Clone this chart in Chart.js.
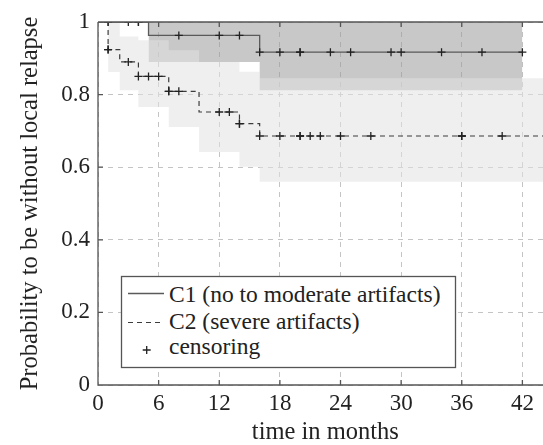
<!DOCTYPE html>
<html>
<head>
<meta charset="utf-8">
<script src="https://cdn.jsdelivr.net/npm/chart.js@4/dist/chart.umd.min.js"></script>
<style>
html,body{margin:0;padding:0;background:#fff;overflow:hidden;}
#wrap{position:relative;width:543px;height:445px;overflow:hidden;background:#fff;}
#c{position:absolute;left:0;top:0;}
#leg{position:absolute;left:0;top:0;pointer-events:none;}
</style>
</head>
<body>
<div id="wrap">
  <canvas id="c" width="558" height="445"></canvas>
  <svg id="leg" width="543" height="445" xmlns="http://www.w3.org/2000/svg"></svg>
</div>
<script>
// ---- data ----
const xTicks = [0, 6, 12, 18, 24, 30, 36, 42];
const xTickLabels = ['0', '6', '12', '18', '24', '30', '36', '42'];
const yTicks = [0, 0.2, 0.4, 0.6, 0.8, 1];
const yTickLabels = ['0', '0.2', '0.4', '0.6', '0.8', '1'];

const seriesLabels = ['C1 (no to moderate artifacts)', 'C2 (severe artifacts)', 'censoring'];

// Kaplan-Meier step curves (value holds from this time onward)
const c1Times = [0, 5, 16, 42];
const c1Surv  = [1, 0.963, 0.917, 0.917];
const c2Times = [0, 1, 2.15, 4, 7, 10, 14, 16, 45];
const c2Surv  = [1, 0.924, 0.89, 0.85, 0.809, 0.752, 0.72, 0.686, 0.686];

// confidence bands
const c1BandTimes = [5, 16, 42];
const c1BandUpper = [1, 1, 1];
const c1BandLower = [0.89, 0.812, 0.812];
const c2BandTimes = [1, 2.15, 4, 7, 10, 14, 16, 45];
const c2BandUpper = [1, 0.96, 0.95, 0.922, 0.89, 0.863, 0.845, 0.845];
const c2BandLower = [0.862, 0.812, 0.766, 0.711, 0.642, 0.601, 0.56, 0.56];

// censoring marks
const c1CensorTimes = [1, 3, 4, 4, 8, 12, 14, 16, 18, 20, 20, 23, 25, 29, 30, 34, 38, 42];
const c1CensorSurv  = [1, 1, 1, 1, 0.963, 0.963, 0.963, 0.917, 0.917, 0.917, 0.917, 0.917, 0.917, 0.917, 0.917, 0.917, 0.917, 0.917];
const c2CensorTimes = [1, 1, 3, 4, 5, 6, 7, 7, 8, 12, 13, 14, 14, 16, 18, 20, 20, 21, 22, 24, 27, 36, 36, 40];
const c2CensorSurv  = [0.924, 0.924, 0.89, 0.85, 0.85, 0.85, 0.809, 0.809, 0.809, 0.752, 0.752, 0.72, 0.72, 0.686, 0.686, 0.686, 0.686, 0.686, 0.686, 0.686, 0.686, 0.686, 0.686, 0.686];

// ---- chart ----
const FONT = '"Liberation Serif", "Times New Roman", serif';
const TEXT = '#222';
const pts = (xs, ys) => xs.map((x, i) => ({x: x, y: ys[i]}));

const framePlugin = {
  id: 'frame',
  afterDraw(chart) {
    const {ctx, chartArea, scales} = chart;
    const {left, top, right, bottom} = chartArea;
    ctx.save();
    ctx.setLineDash([]);
    ctx.strokeStyle = '#555';
    ctx.lineWidth = 1.3;
    ctx.beginPath();
    ctx.moveTo(left, top); ctx.lineTo(right, top);
    ctx.moveTo(left, top); ctx.lineTo(left, bottom); ctx.lineTo(right, bottom);
    xTicks.forEach(v => {
      const px = scales.x.getPixelForValue(v);
      ctx.moveTo(px, bottom); ctx.lineTo(px, bottom - 5);
      ctx.moveTo(px, top); ctx.lineTo(px, top + 5);
    });
    yTicks.forEach(v => {
      const py = scales.y.getPixelForValue(v);
      ctx.moveTo(left, py); ctx.lineTo(left + 5, py);
    });
    ctx.stroke();
    ctx.restore();
  }
};

new Chart(document.getElementById('c'), {
  type: 'line',
  data: {
    datasets: [
      { data: pts(c1BandTimes, c1BandUpper), stepped: true, fill: '+1',
        backgroundColor: 'rgba(155,155,155,0.55)', borderColor: 'rgba(0,0,0,0)', borderWidth: 0, pointRadius: 0, order: 10 },
      { data: pts(c1BandTimes, c1BandLower), stepped: true, fill: false,
        borderColor: 'rgba(0,0,0,0)', borderWidth: 0, pointRadius: 0, order: 10 },
      { data: pts(c2BandTimes, c2BandUpper), stepped: true, fill: '+1',
        backgroundColor: 'rgba(225,225,225,0.55)', borderColor: 'rgba(0,0,0,0)', borderWidth: 0, pointRadius: 0, order: 9 },
      { data: pts(c2BandTimes, c2BandLower), stepped: true, fill: false,
        borderColor: 'rgba(0,0,0,0)', borderWidth: 0, pointRadius: 0, order: 9 },
      { label: seriesLabels[0], data: pts(c1Times, c1Surv), stepped: true, fill: false,
        borderColor: '#5a5a5a', borderWidth: 1.3, pointRadius: 0, order: 2 },
      { label: seriesLabels[1], data: pts(c2Times, c2Surv), stepped: true, fill: false,
        borderColor: '#3c3c3c', borderWidth: 1.2, borderDash: [5, 4], pointRadius: 0, order: 2 },
      { label: seriesLabels[2], data: pts(c1CensorTimes, c1CensorSurv), showLine: false,
        pointStyle: 'cross', pointRadius: 4, pointBorderWidth: 1.3, pointBorderColor: '#222', borderColor: '#222', order: 1 },
      { label: seriesLabels[2], data: pts(c2CensorTimes, c2CensorSurv), showLine: false,
        pointStyle: 'cross', pointRadius: 4, pointBorderWidth: 1.3, pointBorderColor: '#222', borderColor: '#222', order: 1 }
    ]
  },
  options: {
    responsive: false,
    animation: false,
    devicePixelRatio: 1,
    layout: { padding: { top: 22, right: 0, bottom: 0, left: 0 } },
    plugins: { legend: { display: false }, tooltip: { enabled: false } },
    scales: {
      x: {
        type: 'linear', min: 0, max: 45,
        afterBuildTicks: s => { s.ticks = xTicks.map(v => ({value: v})); },
        afterFit: s => { s.height = 60; },
        ticks: { callback: (v, i) => xTickLabels[i], color: TEXT, padding: 7,
                 font: { family: FONT, size: 23, lineHeight: 1 }, maxRotation: 0, autoSkip: false },
        grid: { color: '#c4c4c4', lineWidth: 1, drawTicks: false },
        border: { display: false, dash: [5, 5] },
        title: { display: true, text: 'time in months', color: TEXT,
                 font: { family: FONT, size: 24.5, lineHeight: 1 }, padding: { top: 0, bottom: 0 } }
      },
      y: {
        type: 'linear', min: 0, max: 1,
        afterBuildTicks: s => { s.ticks = yTicks.map(v => ({value: v})); },
        afterFit: s => { s.width = 98; },
        ticks: { callback: (v, i) => yTickLabels[i], color: TEXT, padding: 8,
                 font: { family: FONT, size: 23, lineHeight: 1 }, autoSkip: false },
        grid: { color: '#c4c4c4', lineWidth: 1, drawTicks: false },
        border: { display: false, dash: [5, 5] },
        title: { display: true, text: 'Probability to be without local relapse', color: TEXT,
                 font: { family: FONT, size: 24.5, lineHeight: 1 }, padding: { top: 18, bottom: 0 } }
      }
    }
  },
  plugins: [framePlugin]
});

// ---- legend (SVG overlay) ----
const NS = 'http://www.w3.org/2000/svg';
const svg = document.getElementById('leg');
function el(tag, attrs, text) {
  const e = document.createElementNS(NS, tag);
  for (const k in attrs) e.setAttribute(k, attrs[k]);
  if (text) e.textContent = text;
  svg.appendChild(e);
  return e;
}
el('rect', { x: 121.5, y: 276.5, width: 334, height: 91, fill: '#fff', stroke: '#555', 'stroke-width': 1.3 });
el('line', { x1: 128, y1: 293.5, x2: 164, y2: 293.5, stroke: '#5a5a5a', 'stroke-width': 1.3 });
el('line', { x1: 128, y1: 322.5, x2: 164, y2: 322.5, stroke: '#3c3c3c', 'stroke-width': 1.2, 'stroke-dasharray': '5 4' });
el('path', { d: 'M142.7,350 h8 M146.7,346 v8', stroke: '#222', 'stroke-width': 1.3, fill: 'none' });
const legendBaselines = [301.7, 329.3, 353.5];
seriesLabels.forEach((t, i) => {
  el('text', { x: 169, y: legendBaselines[i], 'font-family': 'Liberation Serif', 'font-size': 23.5, fill: TEXT }, t);
});
</script>
</body>
</html>
